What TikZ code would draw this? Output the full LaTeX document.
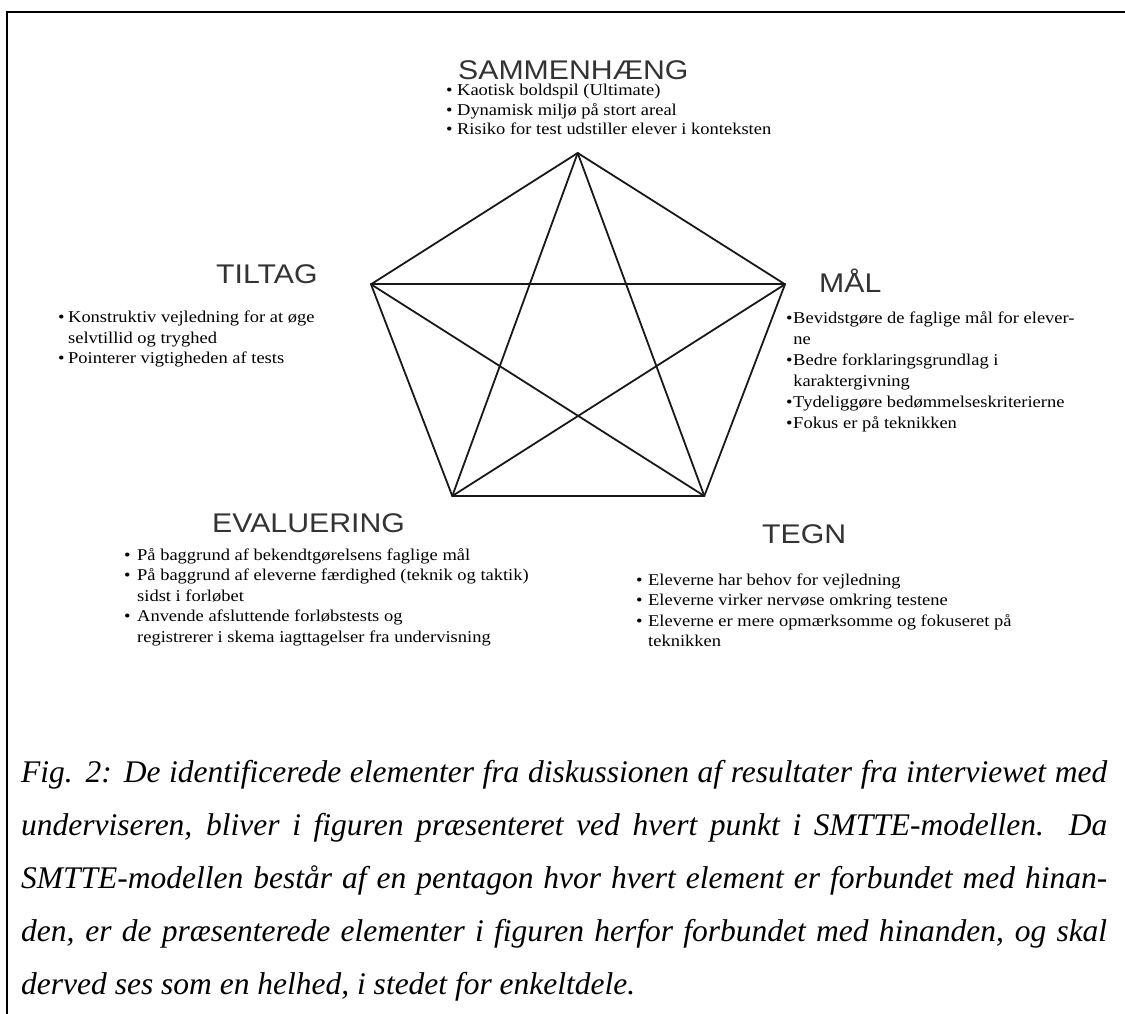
\documentclass[tikz,border=0pt]{standalone}
\usepackage{fontspec}
\setmainfont{Liberation Serif}
\newfontfamily\headfont{Liberation Sans}
\newcommand\hstretch[1]{\scalebox{1.12}[1]{#1}}
\newcommand\itm[1]{\makebox[#1][l]{\textbullet}}
\newcommand\itemblock[2]{\scalebox{1.12}[1]{\fontsize{16.5}{#1}\selectfont\begin{tabular}[t]{@{}l@{}}#2\end{tabular}}}
\begin{document}
\begin{tikzpicture}[x=1pt,y=-1pt,
  head/.style={font=\headfont\fontsize{27}{27}\selectfont, text=black!80, inner sep=0pt, text depth=0pt, anchor=base west},
  items/.style={inner sep=0pt, anchor=base west, text=black},
  edge/.style={line width=1.8pt, black!90, line cap=round},
  frame/.style={line width=2.2pt, black},
  capline/.style={font=\itshape\fontsize{31.5}{31.5}\selectfont, inner sep=0pt, anchor=base west}]
\useasboundingbox (0,0) rectangle (1125,1014);
% frame
\draw[frame] (1125,12) -- (7,12) -- (7,1014);
% pentagon vertices
\coordinate (S) at (577.7,153);
\coordinate (T) at (371,284.3);
\coordinate (M) at (785,284.3);
\coordinate (E) at (452.3,496);
\coordinate (G) at (704.3,496);
\foreach \a/\b in {S/T,S/M,S/E,S/G,T/M,T/E,T/G,M/E,M/G,E/G}
  \draw[edge] (\a) -- (\b);
% headings
\node[head] (hS) at (458,80) {\hstretch{SAMMENHÆNG}};
\node[head] (hT) at (216,283) {\hstretch{TILTAG}};
\node[head] (hM) at (819,292) {\hstretch{MÅL}};
\node[head] (hE) at (212,532) {\hstretch{EVALUERING}};
\node[head] (hG) at (762,543) {\hstretch{TEGN}};
% item blocks
\node[items] (iS) at (446,96) {\itemblock{19.3}{%
\itm{9.8pt}Kaotisk boldspil (Ultimate)\\
\itm{9.8pt}Dynamisk miljø på stort areal\\
\itm{9.8pt}Risiko for test udstiller elever i konteksten}};
\node[items] (iT) at (58,322.5) {\itemblock{20.5}{%
\itm{8.9pt}Konstruktiv vejledning for at øge\\
\hspace*{8.9pt}selvtillid og tryghed\\
\itm{8.9pt}Pointerer vigtigheden af tests}};
\node[items] (iM) at (786,323) {\itemblock{21}{%
\itm{6.3pt}Bevidstgøre de faglige mål for elever-\\
\hspace*{6.3pt}ne\\
\itm{6.3pt}Bedre forklaringsgrundlag i\\
\hspace*{6.3pt}karaktergivning\\
\itm{6.3pt}Tydeliggøre bedømmelseskriterierne\\
\itm{6.3pt}Fokus er på teknikken}};
\node[items] (iE) at (124,560) {\itemblock{20.5}{%
\itm{11.6pt}På baggrund af bekendtgørelsens faglige mål\\
\itm{11.6pt}På baggrund af eleverne færdighed (teknik og taktik)\\
\hspace*{11.6pt}sidst i forløbet\\
\itm{11.6pt}Anvende afsluttende forløbstests og\\
\hspace*{11.6pt}registrerer i skema iagttagelser fra undervisning}};
\node[items] (iG) at (636,585) {\itemblock{20.5}{%
\itm{10.7pt}Eleverne har behov for vejledning\\
\itm{10.7pt}Eleverne virker nervøse omkring testene\\
\itm{10.7pt}Eleverne er mere opmærksomme og fokuseret på\\
\hspace*{10.7pt}teknikken}};
% caption
\node[capline] (c1) at (21,782) {\makebox[1086pt][s]{Fig. 2: De identificerede elementer fra diskussionen af resultater fra interviewet med}};
\node[capline] (c2) at (21,835) {\makebox[1086pt][s]{underviseren, bliver i figuren præsenteret ved hvert punkt i SMTTE-modellen. Da}};
\node[capline] (c3) at (21,888) {\makebox[1086pt][s]{SMTTE-modellen består af en pentagon hvor hvert element er forbundet med hinan-}};
\node[capline] (c4) at (21,941) {\makebox[1086pt][s]{den, er de præsenterede elementer i figuren herfor forbundet med hinanden, og skal}};
\node[capline] (c5) at (21,994) {derved ses som en helhed, i stedet for enkeltdele.};
\end{tikzpicture}
\end{document}
